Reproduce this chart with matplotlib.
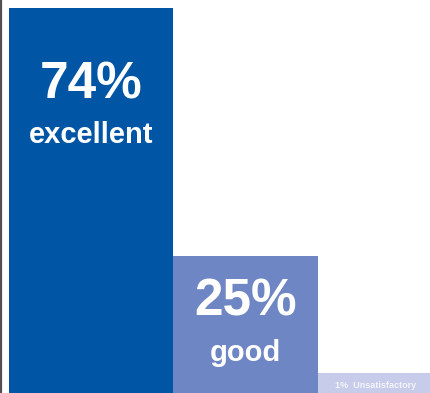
import matplotlib.pyplot as plt

# ratings shown in the chart
ratings = ["excellent", "good", "Unsatisfactory"]
percents = [74, 25, 1]
# drawn bar heights (the picture is not to scale, read off in the same units)
bar_heights = [74, 26.3, 3.8]

colors = ["#0055A5", "#6F86C4", "#C6CCE9"]

# layout in pixel units
lefts = [9, 173, 318]
widths = [164, 145, 116]
pct_offsets = [77, 46]     # px below the bar top
label_offsets = [127, 97]
W, H = 431, 393
y_top = 74 * H / (H - 8)

fig = plt.figure(figsize=(W / 100, H / 100), dpi=100)
ax = fig.add_axes([0, 0, 1, 1])
ax.set_xlim(0, W)
ax.set_ylim(0, y_top)
ax.axis("off")

ax.bar(lefts, bar_heights, width=widths, align="edge", color=colors, linewidth=0)
ax.axvline(1.5, color="#505050", linewidth=1.6)

font = "Liberation Sans"
px = y_top / H  # one pixel in data units

for i in range(2):
    cx = lefts[i] + widths[i] / 2
    top = bar_heights[i]
    ax.text(cx, top - pct_offsets[i] * px, f"{percents[i]}%", ha="center", va="center",
            color="white", fontsize=37, fontweight="bold", family=font)
    ax.text(cx, top - label_offsets[i] * px, ratings[i], ha="center", va="center",
            color="white", fontsize=21, fontweight="bold", family=font)

cx = lefts[2] + widths[2] / 2
ax.text(cx, bar_heights[2] / 2 - 2 * px, f"{percents[2]}%  {ratings[2]}", ha="center", va="center",
        color="#F4F5FB", fontsize=6.5, fontweight="bold", family=font)

fig.savefig("out.png", dpi=100)
